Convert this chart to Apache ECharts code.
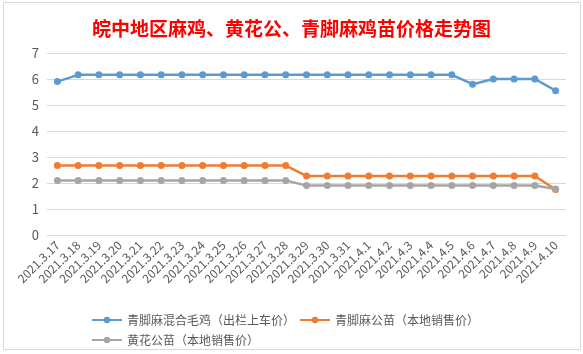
<!DOCTYPE html>
<html>
<head>
<meta charset="utf-8">
<script src="https://cdn.jsdelivr.net/npm/echarts@6/dist/echarts.min.js"></script>
<style>
  html, body { margin: 0; padding: 0; background: #fff; }
  #main { width: 583px; height: 354px; }
</style>
</head>
<body>
<div id="main"></div>
<script>
// 日期
const dates = [
  '2021.3.17', '2021.3.18', '2021.3.19', '2021.3.20', '2021.3.21', '2021.3.22',
  '2021.3.23', '2021.3.24', '2021.3.25', '2021.3.26', '2021.3.27', '2021.3.28',
  '2021.3.29', '2021.3.30', '2021.3.31', '2021.4.1', '2021.4.2', '2021.4.3',
  '2021.4.4', '2021.4.5', '2021.4.6', '2021.4.7', '2021.4.8', '2021.4.9', '2021.4.10'
];

// 青脚麻混合毛鸡（出栏上车价）
const mixedChicken = [
  5.9, 6.16, 6.16, 6.16, 6.16, 6.16, 6.16, 6.16, 6.16, 6.16, 6.16, 6.16,
  6.16, 6.16, 6.16, 6.16, 6.16, 6.16, 6.16, 6.16, 5.8, 6.0, 6.0, 6.0, 5.55
];

// 青脚麻公苗（本地销售价）
const qingjiaoChick = [
  2.67, 2.67, 2.67, 2.67, 2.67, 2.67, 2.67, 2.67, 2.67, 2.67, 2.67, 2.67,
  2.27, 2.27, 2.27, 2.27, 2.27, 2.27, 2.27, 2.27, 2.27, 2.27, 2.27, 2.27, 1.75
];

// 黄花公苗（本地销售价）
const huanghuaChick = [
  2.1, 2.1, 2.1, 2.1, 2.1, 2.1, 2.1, 2.1, 2.1, 2.1, 2.1, 2.1,
  1.9, 1.9, 1.9, 1.9, 1.9, 1.9, 1.9, 1.9, 1.9, 1.9, 1.9, 1.9, 1.77
];

const seriesNames = ['青脚麻混合毛鸡（出栏上车价）', '青脚麻公苗（本地销售价）', '黄花公苗（本地销售价）'];
const colors = ['#5B9BD5', '#ED7D31', '#A5A5A5'];

const chart = echarts.init(document.getElementById('main'), null, { renderer: 'canvas' });

const makeSeries = (name, data, color) => ({
  name: name,
  type: 'line',
  data: data,
  symbol: 'circle',
  symbolSize: 7,
  lineStyle: { width: 2.5, color: color },
  itemStyle: { color: color }
});

const legendText = {
  color: '#595959',
  fontSize: 12,
  fontFamily: '"Noto Sans CJK SC", sans-serif'
};

const option = {
  backgroundColor: '#fff',
  animation: false,
  color: colors,
  title: {
    text: '皖中地区麻鸡、黄花公、青脚麻鸡苗价格走势图',
    left: 'center',
    top: 14,
    textStyle: {
      color: '#FF0000',
      fontSize: 19,
      fontWeight: 'bold',
      fontFamily: '"Noto Sans CJK SC", sans-serif'
    }
  },
  graphic: [{
    type: 'rect',
    shape: { x: 3.5, y: 2.5, width: 577, height: 347 },
    style: { fill: 'none', stroke: '#d9d9d9', lineWidth: 1 },
    silent: true
  }],
  // 两行图例
  legend: [{
    left: 91,
    top: 314,
    itemWidth: 30,
    itemHeight: 8,
    itemGap: 4,
    padding: 0,
    textStyle: legendText,
    data: [seriesNames[0], seriesNames[1]]
  }, {
    left: 91,
    top: 334,
    itemWidth: 30,
    itemHeight: 8,
    padding: 0,
    textStyle: legendText,
    data: [seriesNames[2]]
  }],
  grid: {
    left: 47,
    right: 17,
    top: 53,
    bottom: 119
  },
  xAxis: {
    type: 'category',
    data: dates,
    boundaryGap: true,
    axisLine: { show: true, lineStyle: { color: '#d9d9d9' } },
    axisTick: { show: false },
    axisLabel: {
      interval: 0,
      rotate: 45,
      color: '#595959',
      fontSize: 12,
      margin: 8,
      fontFamily: '"Noto Sans CJK SC", sans-serif'
    }
  },
  yAxis: {
    type: 'value',
    min: 0,
    max: 7,
    interval: 1,
    axisLine: { show: false },
    axisTick: { show: false },
    axisLabel: {
      color: '#595959',
      fontSize: 13,
      margin: 8,
      fontFamily: '"Noto Sans CJK SC", sans-serif'
    },
    splitLine: { lineStyle: { color: '#d9d9d9' } }
  },
  series: [
    makeSeries(seriesNames[0], mixedChicken, colors[0]),
    makeSeries(seriesNames[1], qingjiaoChick, colors[1]),
    makeSeries(seriesNames[2], huanghuaChick, colors[2])
  ]
};

chart.setOption(option);
</script>
</body>
</html>
